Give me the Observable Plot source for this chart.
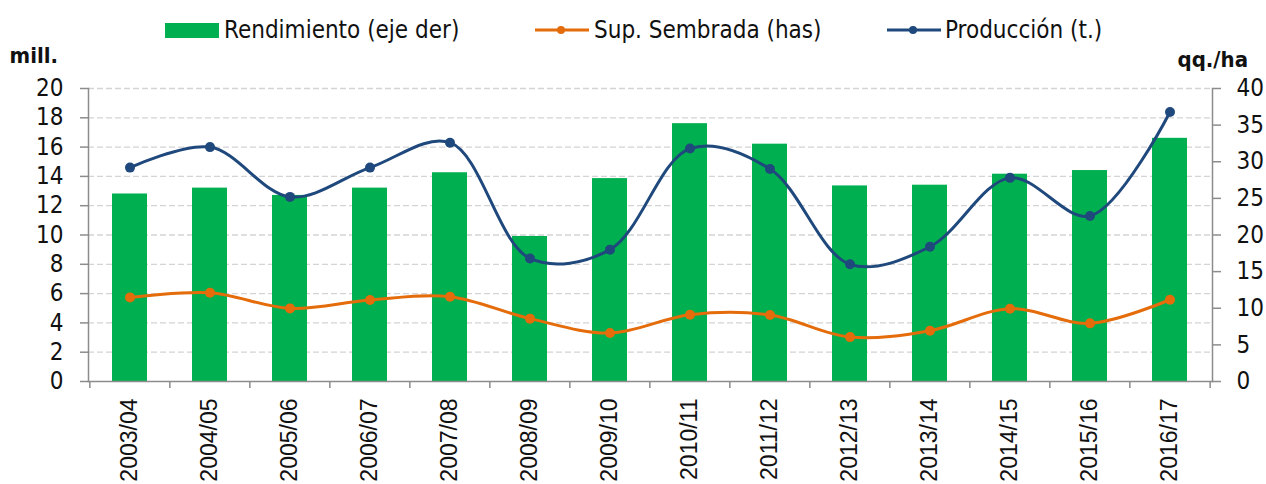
<!DOCTYPE html>
<html>
<head>
<meta charset="utf-8">
<script src="https://cdn.jsdelivr.net/npm/d3@7"></script>
<script src="https://cdn.jsdelivr.net/npm/@observablehq/plot@0.6"></script>
<style>
  html, body { margin: 0; padding: 0; background: #fff; }
  #wrap { width: 1266px; }
  #legend { position: relative; height: 44px; width: 1266px; font-family: "DejaVu Sans Condensed", "DejaVu Sans", sans-serif; font-size: 24px; color: #111; }
  #legend .item { position: absolute; top: 8px; height: 44px; display: flex; align-items: center; white-space: nowrap; }
  #legend svg { display: block; }
  #chart svg { display: block; }
</style>
</head>
<body>
<div id="wrap">
  <div id="legend"></div>
  <div id="chart"></div>
</div>
<script>
const seasons = ["2003/04","2004/05","2005/06","2006/07","2007/08","2008/09","2009/10","2010/11","2011/12","2012/13","2013/14","2014/15","2015/16","2016/17"];
// Rendimiento (qq./ha) - right axis
const rendimiento = [25.6, 26.4, 25.4, 26.4, 28.5, 19.8, 27.7, 35.2, 32.4, 26.7, 26.8, 28.3, 28.8, 33.2];
// Sup. Sembrada (mill. has) - left axis
const superficie = [5.74, 6.06, 4.99, 5.56, 5.79, 4.29, 3.31, 4.56, 4.54, 3.03, 3.47, 4.97, 3.97, 5.58];
// Producción (mill. t.) - left axis
const produccion = [14.6, 16.0, 12.6, 14.6, 16.3, 8.4, 9.0, 15.9, 14.5, 8.0, 9.2, 13.9, 11.3, 18.4];
const leftTicks = [0, 2, 4, 6, 8, 10, 12, 14, 16, 18, 20];
const rightTicks = [0, 5, 10, 15, 20, 25, 30, 35, 40];
const seriesNames = ["Rendimiento (eje der)", "Sup. Sembrada (has)", "Producción (t.)"];
const colors = ["#00B050", "#E46C0A", "#1F497D"];

const rows = seasons.map((s, i) => ({season: s, rend: rendimiento[i], sup: superficie[i], prod: produccion[i]}));

const W = 1266, H = 440, ML = 88, MR = 54, MT = 44, MB = 103;
const halfStep = (W - ML - MR) / seasons.length / 2;
const axisColor = "#8c8c8c";
const tickFont = "'DejaVu Sans Condensed', 'DejaVu Sans', sans-serif";

// Legend
const legend = document.getElementById("legend");
function addItem(left, swatchSvg, text, textLeft) {
  const sw = document.createElement("div");
  sw.className = "item"; sw.style.left = left + "px";
  sw.innerHTML = swatchSvg;
  legend.appendChild(sw);
  const t = document.createElement("div");
  t.className = "item"; t.style.left = textLeft + "px";
  t.textContent = text;
  legend.appendChild(t);
}
addItem(165, `<svg width="54" height="15"><rect x="0" y="0" width="54" height="15" fill="${colors[0]}"/></svg>`, seriesNames[0], 224);
addItem(535, `<svg width="54" height="12"><line x1="0" x2="54" y1="6" y2="6" stroke="${colors[1]}" stroke-width="3"/><circle cx="26" cy="6" r="4" fill="${colors[1]}"/></svg>`, seriesNames[1], 594);
addItem(887, `<svg width="54" height="12"><line x1="0" x2="54" y1="6" y2="6" stroke="${colors[2]}" stroke-width="3"/><circle cx="26" cy="6" r="4" fill="${colors[2]}"/></svg>`, seriesNames[2], 945);

const chart = Plot.plot({
  width: W, height: H,
  marginLeft: ML, marginRight: MR, marginTop: MT, marginBottom: MB,
  x: {domain: seasons, paddingInner: 0.56, paddingOuter: 0.28, axis: null},
  y: {domain: [0, 20], axis: null},
  style: {fontFamily: tickFont, color: "#111", background: "white"},
  marks: [
    Plot.ruleY(leftTicks.filter(d => d > 0), {stroke: "#d4d4d4", strokeWidth: 1.3, strokeDasharray: "6,3"}),
    Plot.barY(rows, {x: "season", y: d => d.rend / 2, fill: colors[0]}),
    Plot.line(rows, {x: "season", y: "sup", stroke: colors[1], strokeWidth: 3, curve: "catmull-rom"}),
    Plot.dot(rows, {x: "season", y: "sup", fill: colors[1], r: 5}),
    Plot.line(rows, {x: "season", y: "prod", stroke: colors[2], strokeWidth: 3, curve: "catmull-rom"}),
    Plot.dot(rows, {x: "season", y: "prod", fill: colors[2], r: 5}),
    // axis lines
    Plot.frame({anchor: "left", stroke: axisColor, strokeWidth: 1.5}),
    Plot.frame({anchor: "right", stroke: axisColor, strokeWidth: 1.5}),
    Plot.frame({anchor: "bottom", stroke: axisColor, strokeWidth: 1.5}),
    // left axis
    Plot.axisY({ticks: leftTicks, anchor: "left", tickSize: 8, tickPadding: 17, fontSize: 24, stroke: axisColor, strokeWidth: 1.5, label: null, fill: "#111"}),
    // right axis (rendimiento scaled by 1/2)
    Plot.axisY({ticks: rightTicks.map(v => v / 2), anchor: "right", tickSize: 8, tickPadding: 16, fontSize: 24, tickFormat: d => String(d * 2), stroke: axisColor, strokeWidth: 1.5, label: null, fill: "#111"}),
    // x boundary ticks
    Plot.axisX(seasons, {anchor: "bottom", tickSize: 7, tickFormat: () => "", dx: -halfStep, stroke: axisColor, strokeWidth: 1.5, label: null}),
    Plot.axisX([seasons[seasons.length - 1]], {anchor: "bottom", tickSize: 7, tickFormat: () => "", dx: halfStep, stroke: axisColor, strokeWidth: 1.5, label: null}),
    // x labels
    Plot.axisX({anchor: "bottom", tickSize: 0, tickRotate: -90, tickPadding: 17, fontSize: 23, fontFamily: "'Liberation Sans', Arial, sans-serif", label: null, fill: "#111"}),
    // unit labels
    Plot.text(["mill."], {frameAnchor: "top-left", text: d => d, dx: -79, dy: -26, textAnchor: "start", lineAnchor: "bottom", fontWeight: "bold", fontSize: 22, fill: "#111"}),
    Plot.text(["qq./ha"], {frameAnchor: "top-right", text: d => d, dx: -35, dy: -22, textAnchor: "start", lineAnchor: "bottom", fontWeight: "bold", fontSize: 22, fill: "#111"})
  ]
});
document.getElementById("chart").appendChild(chart);
</script>
</body>
</html>
